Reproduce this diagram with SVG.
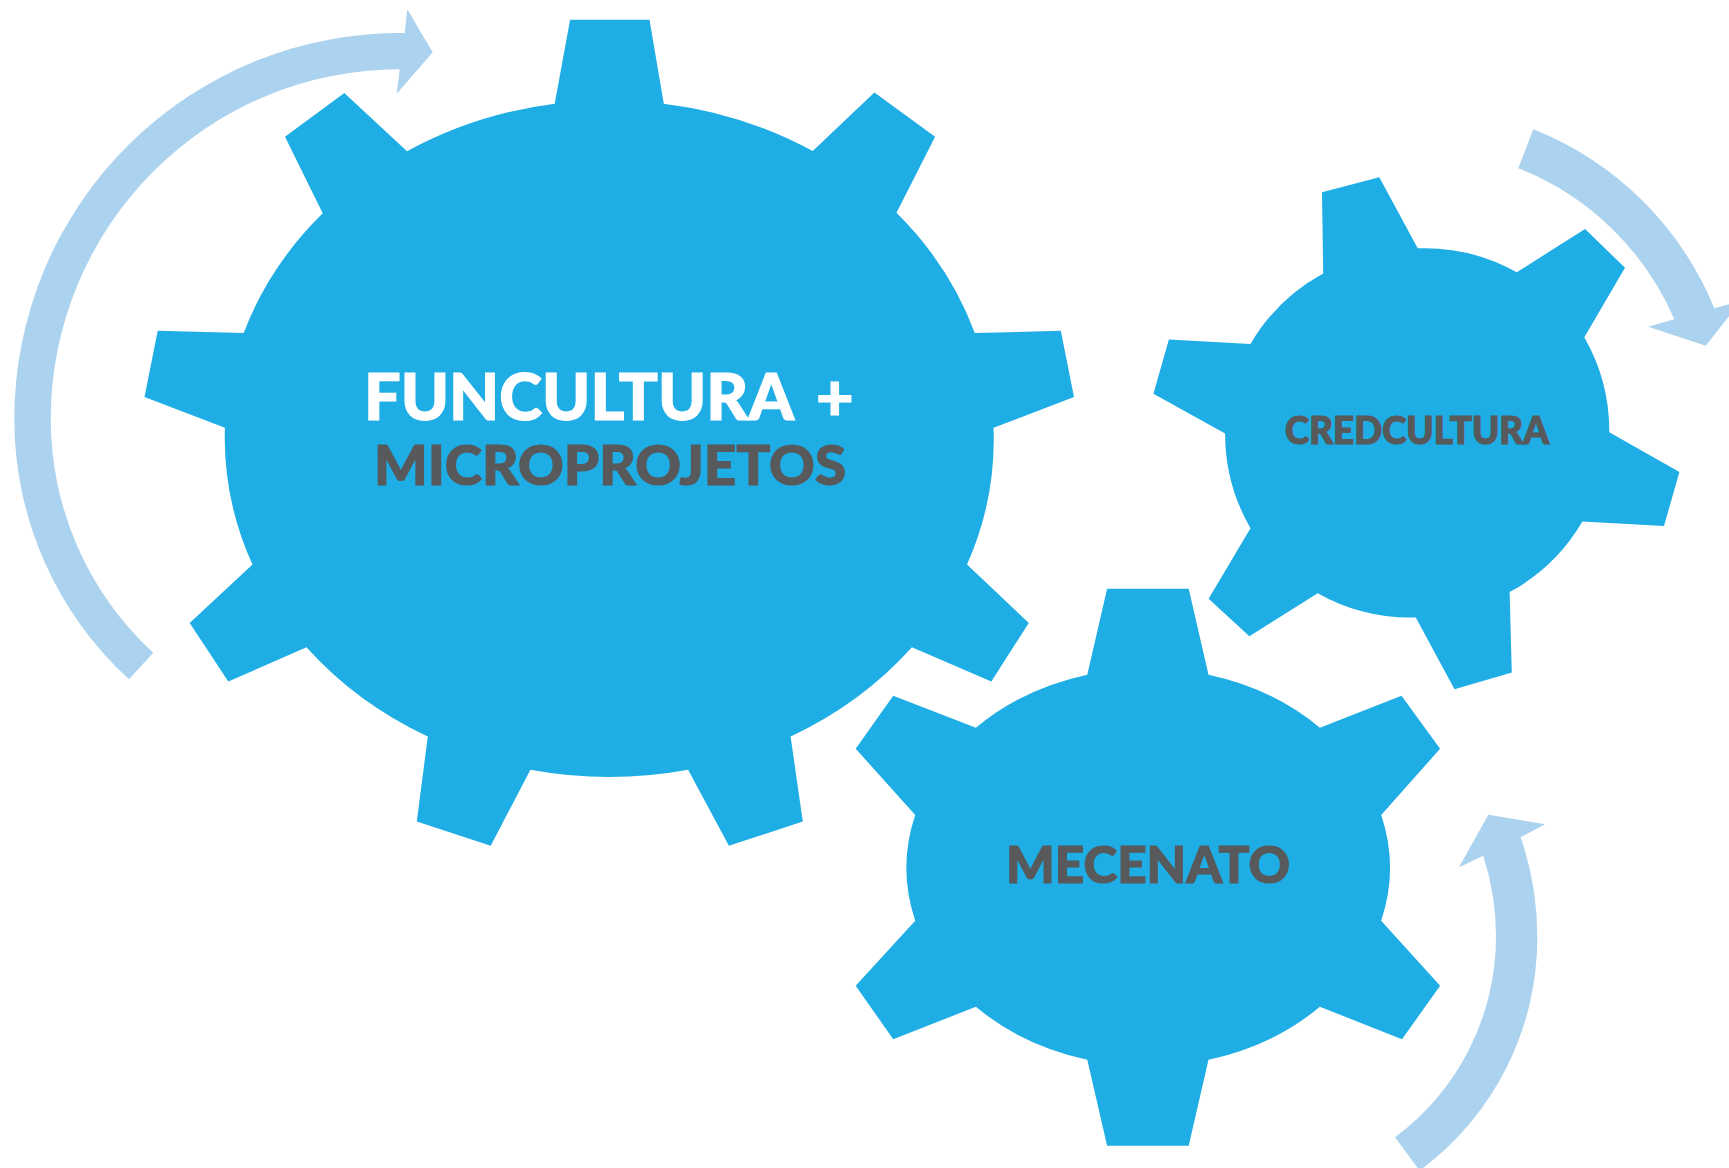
<svg xmlns="http://www.w3.org/2000/svg" width="1729" height="1168" viewBox="0 0 1729 1168">
<style>
.gear{fill:#1eade5}
.arrow{fill:#abd2ef}
text{font-family:"Lato","Liberation Sans",sans-serif;font-weight:900;stroke-width:1.2px}
.w{fill:#fff;stroke:#fff}
.g{fill:#58595b;stroke:#58595b}
</style>
<rect width="1729" height="1168" fill="#fff"/>
<g id="connectors">
<path class="arrow" d="M404.7 33L407.3 9.3L432.7 52.3L396.7 93.7L399.7 69.3A349 350 0 0 0 50.7 419A318 318 0 0 0 153.3 652.8L129 679.3A353 353 0 0 1 14.3 419A386 386 0 0 1 404.7 33Z"/>
<path class="arrow" d="M1533.3 129.3A324 324 0 0 1 1714.3 308.3L1741 301L1705.7 345.7L1648.3 326.7L1674.3 319.3A282 282 0 0 0 1518.3 168.3Z"/>
<path class="arrow" d="M1395 1137.3A250 250 0 0 0 1496 936.7A265 265 0 0 0 1483.3 855.7L1459 867.3L1488.3 814.7L1545 824.3L1520.7 837.3A306 306 0 0 1 1537.3 936.7A289 289 0 0 1 1421.7 1169L1418.5 1169Z"/>
</g>
<g id="gear-funcultura">
<path class="gear" d="M570.1 19.8L649.5 19.8L663.8 103.7A384.8 340.7 0 0 1 812.7 151.1L874.4 92.6L935.1 136.7L896.5 212.8A384.8 340.7 0 0 1 974.8 333L1060.8 330.8L1074 397L993.5 427.8A384.8 340.7 0 0 1 967 564.6L1028.8 623L991.3 681.5L911.9 647.3A384.8 340.7 0 0 1 790.6 736.6L802.8 821.5L728.9 845.8L688.1 769.7A384.8 340.7 0 0 1 530.4 769.7L490.7 845.8L416.8 821.5L427.8 736.6A384.8 340.7 0 0 1 306.5 647.3L228.3 681.5L189.7 623L252.5 564.6A384.8 340.7 0 0 1 224.9 427.8L144.5 397L157.7 330.8L243.7 333A384.8 340.7 0 0 1 322.7 213.3L285 136.7L344.3 93L407 151.3A384.8 340.7 0 0 1 554.7 103.7Z"/>
<text class="w" x="364" y="419.5" font-size="65" textLength="430" lengthAdjust="spacingAndGlyphs">FUNCULTURA</text>
<text class="w" x="816" y="419.5" font-size="65">+</text>
<text class="g" x="374" y="485" font-size="56" textLength="472" lengthAdjust="spacingAndGlyphs">MICROPROJETOS</text>
</g>
<g id="gear-credcultura">
<path class="gear" d="M1322 192.3L1379.3 177.3L1417.7 248.3A188.6 188.6 0 0 1 1516.7 272.3L1585 229L1625 267.7L1584.3 337.3A188.6 188.6 0 0 1 1609.3 432.3L1679.4 472L1664 526L1582.4 521.6A188.6 188.6 0 0 1 1509.6 592.1L1511.8 672.6L1454.5 689.2L1415.8 617.5A188.6 188.6 0 0 1 1317.7 593.3L1249.4 636.3L1208.6 598.8L1250.5 528.2A188.6 188.6 0 0 1 1225.1 433.4L1153.4 393.7L1168.9 339.6L1250.5 344A188.6 188.6 0 0 1 1323.2 273.5Z"/>
<text class="g" x="1285" y="444" font-size="37" textLength="264" lengthAdjust="spacingAndGlyphs">CREDCULTURA</text>
</g>
<g id="gear-mecenato">
<path class="gear" d="M1107.1 588.8L1188.7 588.8L1208.5 674.8A241.5 198.5 0 0 1 1319.9 727.8L1401.5 695.8L1440.1 748.7L1381.2 815A241.5 198.5 0 0 1 1381.2 920.7L1440.1 985.8L1402 1039.2L1319.9 1006.8A241.5 198.5 0 0 1 1208.5 1059.7L1188.7 1145.7L1107.1 1145.7L1087.3 1059.7A241.5 198.5 0 0 1 975.9 1006.8L893.2 1039.2L855.7 985.8L915.2 920.7A241.5 198.5 0 0 1 915.2 815L855.7 748.7L893.2 695.8L975.9 727.8A241.5 198.5 0 0 1 1087.3 674.8Z"/>
<text class="g" x="1006" y="882.7" font-size="51" textLength="284" lengthAdjust="spacingAndGlyphs">MECENATO</text>
</g>
</svg>
